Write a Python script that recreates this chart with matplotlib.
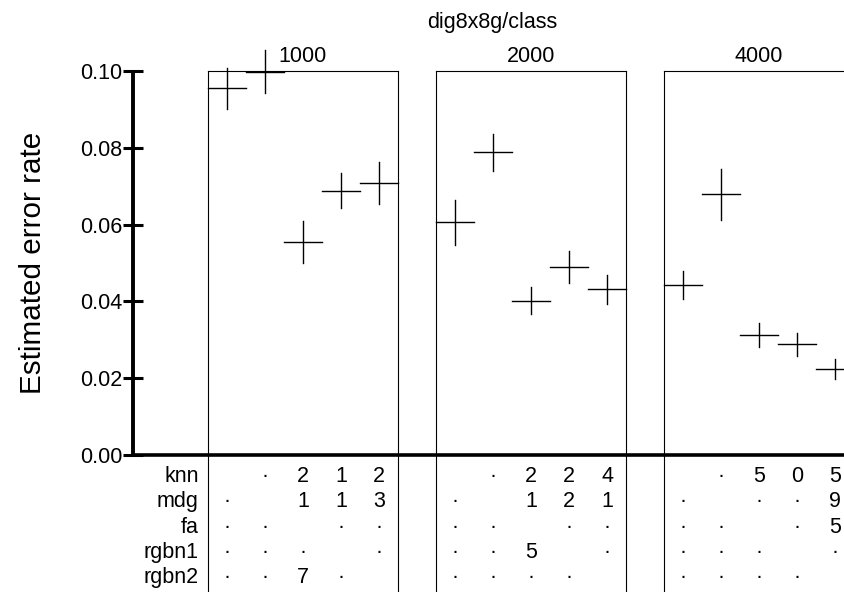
import numpy as np
import matplotlib
matplotlib.use("Agg")
import matplotlib.pyplot as plt

plt.rcParams['font.family'] = ['Liberation Sans', 'DejaVu Sans']

# data
sizes = ["1000", "2000", "4000"]
methods = ["knn", "mdg", "fa", "rgbn1", "rgbn2"]

err_1000 = [0.0955, 0.0998, 0.0555, 0.0688, 0.0708]
se_1000 = [0.0053, 0.0056, 0.0055, 0.0046, 0.0055]
err_2000 = [0.0606, 0.0788, 0.0402, 0.0489, 0.0431]
se_2000 = [0.0059, 0.0049, 0.0035, 0.0041, 0.0037]
err_4000 = [0.0442, 0.0679, 0.0312, 0.0288, 0.0224]
se_4000 = [0.0037, 0.0066, 0.0031, 0.0030, 0.0027]

# comparison table below the axis (rows = methods, columns = methods)
table_1000 = [["", "·", "2", "1", "2"],
              ["·", "", "1", "1", "3"],
              ["·", "·", "", "·", "·"],
              ["·", "·", "·", "", "·"],
              ["·", "·", "7", "·", ""]]
table_2000 = [["", "·", "2", "2", "4"],
              ["·", "", "1", "2", "1"],
              ["·", "·", "", "·", "·"],
              ["·", "·", "5", "", "·"],
              ["·", "·", "·", "·", ""]]
table_4000 = [["", "·", "5", "0", "5"],
              ["·", "", "·", "·", "9"],
              ["·", "·", "", "·", "5"],
              ["·", "·", "·", "", "·"],
              ["·", "·", "·", "·", ""]]

errs = [err_1000, err_2000, err_4000]
ses = [se_1000, se_2000, se_4000]
tables = [table_1000, table_2000, table_4000]

W, H = 845, 592
fig = plt.figure(figsize=(W / 100, H / 100), dpi=100)
ax = fig.add_axes([133 / W, 1 - 455 / H, (W - 133) / W, 384 / H])

fs = 15.5
stride = 6  # 5 columns + 1 gap per panel
ax.set_xlim(-75 / 38, (W - 208) / 38)
ax.set_ylim(0, 0.10)

for p, size in enumerate(sizes):
    left = p * stride
    right = left + len(methods)
    # panel box, sides run down through the table
    ax.plot([left, right], [0.10, 0.10], color="black", lw=0.8, clip_on=False)
    for xv in (left, right):
        ax.plot([xv, xv], [0.10, -0.04], color="black", lw=0.8, clip_on=False)
    ax.text((left + right) / 2, 0.10234, size, ha="center", va="baseline", fontsize=fs)

    for i in range(len(methods)):
        xc = left + i + 0.5
        y = errs[p][i]
        e = ses[p][i]
        ax.plot([left + i, left + i + 1], [y, y], color="black", lw=1.0, clip_on=False)
        ax.plot([xc, xc], [y - e, y + e], color="black", lw=1.0, clip_on=False)

    for r in range(len(methods)):
        yb = -(482 + 25.3 * r - 455) / 3840
        for c in range(len(methods)):
            s = tables[p][r][c]
            if s:
                ax.text(left + c + 0.5, yb, s, ha="center", va="baseline",
                        fontsize=fs, clip_on=False)

for r, m in enumerate(methods):
    yb = -(482 + 25.3 * r - 455) / 3840
    ax.text(-0.24, yb, m, ha="right", va="baseline", fontsize=fs, clip_on=False)

# axes styling
for s in ("top", "right"):
    ax.spines[s].set_visible(False)
ax.spines["left"].set_linewidth(2.8)
ax.spines["bottom"].set_linewidth(2.6)
ax.spines["left"].set_capstyle("butt")
ax.set_xticks([])
ax.set_yticks([0.0, 0.02, 0.04, 0.06, 0.08, 0.10])
ax.set_yticklabels(["0.00", "0.02", "0.04", "0.06", "0.08", "0.10"])
ax.tick_params(axis="y", direction="inout", length=15, width=2.2, pad=0, labelsize=fs)
ax.set_ylabel("Estimated error rate", fontsize=21.3, labelpad=24)

fig.text(492 / W, 1 - 28 / H, "dig8x8g/class", ha="center", va="baseline", fontsize=fs)

fig.savefig("out.png", dpi=100)
